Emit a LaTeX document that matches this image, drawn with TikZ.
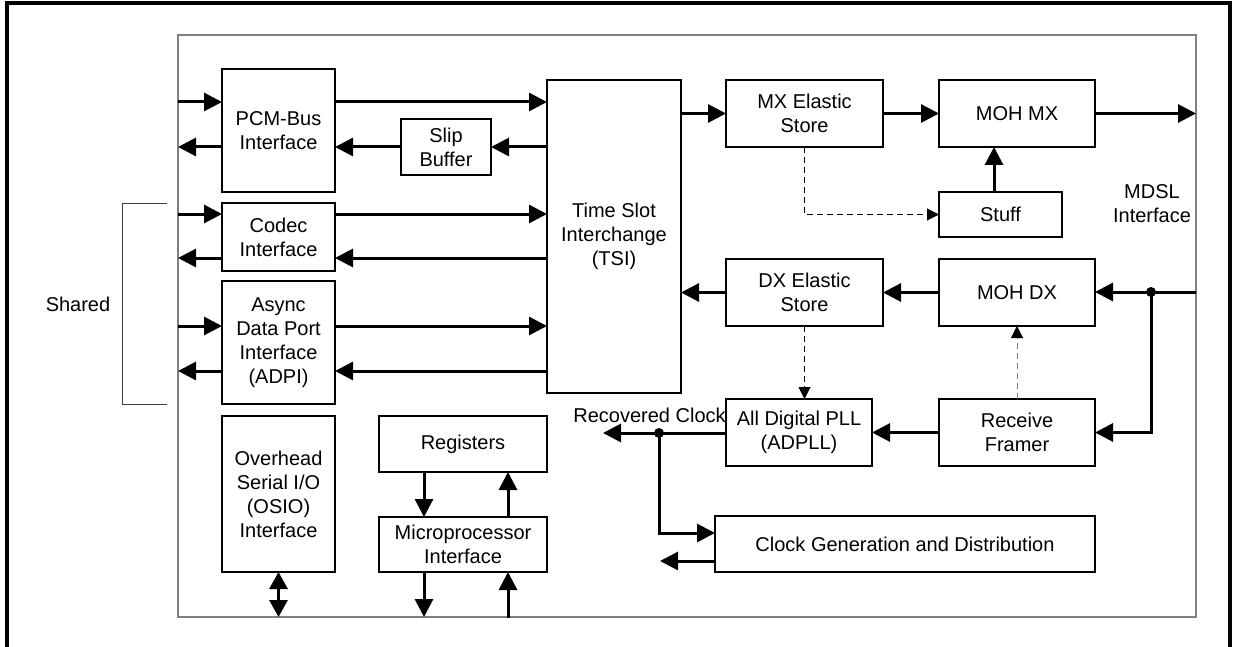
\documentclass[tikz,border=0pt]{standalone}
\usepackage{fontspec}
\setmainfont{Liberation Sans}
\usetikzlibrary{arrows.meta,calc}
\begin{document}
\begin{tikzpicture}[x=0.5pt,y=-0.5pt,
  font=\fontsize{10}{12}\selectfont,
  blk/.style={draw=black,line width=0.9pt,inner sep=0pt,outer sep=0pt,align=center},
  thk/.style={line width=1.5pt,-{Triangle[length=9pt,width=9pt]}},
  dthk/.style={line width=1.5pt,{Triangle[length=8.5pt,width=9pt]}-{Triangle[length=8.5pt,width=9pt]}},
  dsh/.style={line width=0.5pt,dash pattern=on 3pt off 2pt,-{Triangle[length=6pt,width=6pt,color=black]}},
  jdot/.style={circle,fill=black,inner sep=0pt,minimum size=5pt}]
\useasboundingbox (0,0) rectangle (1237,647);
% page frame
\draw[line width=1.7pt] (7,660) -- (7,3) -- (1230,3) -- (1230,660);
% chip outline
\node[draw=black!50,line width=0.6pt,minimum width=509pt,minimum height=291pt,inner sep=0pt,outer sep=0pt] (chip) at (687,326) {};
% blocks
\node[blk,minimum width=56.5pt,minimum height=61.5pt] (pcm) at (278.5,130.5) {PCM-Bus\\Interface};
\node[blk,minimum width=45pt,minimum height=28pt] (slip) at (446,147) {Slip\\Buffer};
\node[blk,minimum width=67pt,minimum height=156.5pt] (tsi) at (614,236.5) {Time Slot\\Interchange\\(TSI)};
\node[blk,minimum width=56.5pt,minimum height=34pt] (codec) at (278.5,237) {Codec\\Interface};
\node[blk,minimum width=56.5pt,minimum height=61.5pt] (adpi) at (278.5,342.5) {Async\\Data Port\\Interface\\(ADPI)};
\node[blk,minimum width=56.5pt,minimum height=78pt] (osio) at (278.5,494) {Overhead\\Serial I/O\\(OSIO)\\Interface};
\node[blk,minimum width=84pt,minimum height=28pt] (regs) at (463,444) {Registers};
\node[blk,minimum width=84pt,minimum height=27.5pt] (micro) at (463,544.5) {Microprocessor\\Interface};
\node[blk,minimum width=78.5pt,minimum height=33.5pt] (mxes) at (804.5,113.5) {MX Elastic\\Store};
\node[blk,minimum width=78pt,minimum height=33.5pt] (mohmx) at (1017,113.5) {MOH MX};
\node[blk,minimum width=61.5pt,minimum height=22.5pt] (stuff) at (1000.5,214.5) {Stuff};
\node[blk,minimum width=78.5pt,minimum height=33.5pt] (dxes) at (804.5,292.5) {DX Elastic\\Store};
\node[blk,minimum width=78pt,minimum height=33.5pt] (mohdx) at (1017,292.5) {MOH DX};
\node[blk,minimum width=73pt,minimum height=33.5pt] (pll) at (799,432.5) {All Digital PLL\\(ADPLL)};
\node[blk,minimum width=78pt,minimum height=33.5pt] (rf) at (1017,432.5) {Receive\\Framer};
\node[blk,minimum width=190pt,minimum height=28pt] (clk) at (905,544) {Clock Generation and Distribution};
% labels
\node (shlab) at (78,304) {Shared};
\node[align=center] (mdsl) at (1152,203.5) {MDSL\\Interface};
\node[anchor=base west,inner sep=0pt] (rclab) at (573,422) {Recovered Clock};
\draw[line width=0.5pt,black!75] (167,203) -- (122,203) -- (122,404) -- (167,404);
% left side ports
\draw[thk] (chip.west |- 0,102) -- (pcm.west |- 0,102);
\draw[thk] (pcm.west |- 0,147) -- (chip.west |- 0,147);
\draw[thk] (chip.west |- 0,214) -- (codec.west |- 0,214);
\draw[thk] (codec.west |- 0,258) -- (chip.west |- 0,258);
\draw[thk] (chip.west |- 0,326) -- (adpi.west |- 0,326);
\draw[thk] (adpi.west |- 0,371) -- (chip.west |- 0,371);
% to/from TSI
\draw[thk] (pcm.east |- 0,102) -- (tsi.west |- 0,102);
\draw[thk] (tsi.west |- slip.east) -- (slip.east);
\draw[thk] (slip.west) -- (pcm.east |- slip.west);
\draw[thk] (codec.east |- 0,214) -- (tsi.west |- 0,214);
\draw[thk] (tsi.west |- 0,258) -- (codec.east |- 0,258);
\draw[thk] (adpi.east |- 0,326) -- (tsi.west |- 0,326);
\draw[thk] (tsi.west |- 0,371) -- (adpi.east |- 0,371);
% MX path
\draw[thk] (tsi.east |- mxes.west) -- (mxes.west);
\draw[thk] (mxes.east) -- (mohmx.west);
\draw[thk] (mohmx.east) -- (chip.east |- mohmx.east);
\draw[thk] (994,0 |- stuff.north) -- (994,0 |- mohmx.south);
\draw[dsh] (mxes.south) |- (stuff.west);
% DX path
\coordinate (j1) at (1151,292);
\draw[thk] (chip.east |- j1) -- (mohdx.east |- j1);
\draw[thk] (j1) |- (rf.east);
\node[jdot] at (j1) {};
\draw[thk] (mohdx.west) -- (dxes.east);
\draw[thk] (dxes.west) -- (tsi.east |- dxes.west);
\draw[dsh] (dxes.south) -- (dxes.south |- pll.north);
\draw[dsh,draw=black!50] (rf.north) -- (mohdx.south);
\draw[thk] (rf.west) -- (pll.east);
% recovered clock
\coordinate (j2) at (659,433);
\coordinate (rcout) at (603,433);
\coordinate (clkout) at (660,561);
\draw[thk] (pll.west |- j2) -- (rcout);
\draw[thk] (j2) -- (j2 |- 0,533) -- (clk.west |- 0,533);
\node[jdot] at (j2) {};
\draw[thk] (clk.west |- clkout) -- (clkout);
% processor side
\draw[thk] (424,0 |- regs.south) -- (424,0 |- micro.north);
\draw[thk] (508,0 |- micro.north) -- (508,0 |- regs.south);
\draw[thk] (424,0 |- micro.south) -- (424,0 |- chip.south);
\draw[thk] (508,618) -- (508,0 |- micro.south);
\draw[dthk] (osio.south) -- (osio.south |- chip.south);
\end{tikzpicture}
\end{document}
